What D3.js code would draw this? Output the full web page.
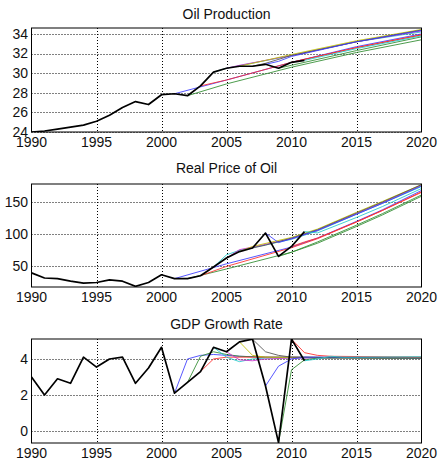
<!DOCTYPE html>
<html><head><meta charset="utf-8">
<script src="https://cdn.jsdelivr.net/npm/d3@7"></script>
<style>
body{margin:0;background:#fff;}
text{font-family:"Liberation Sans",Arial,sans-serif;fill:#111;}
</style></head>
<body><svg id="c" width="447" height="466"></svg>
<script>
// ---- data ----
const histYears = [1990,1991,1992,1993,1994,1995,1996,1997,1998,1999,2000,2001,2002,2003,2004,2005,2006,2007,2008,2009,2010,2011];
const oilActual = [24.0,24.1,24.3,24.5,24.7,25.1,25.7,26.5,27.1,26.8,27.8,27.9,27.7,28.7,30.1,30.5,30.7,30.7,30.9,30.5,31.1,31.3];
const priceActual = [40,32,31,27,24,25,29,27,19,25,37,31,31,35.5,49,63,73,78.6,101.8,65.5,81,104];
const gdpActual = [3.0,2.0,2.9,2.65,4.1,3.55,4.0,4.1,2.65,3.5,4.65,2.1,2.7,3.3,4.65,4.4,4.95,5.1,2.5,-0.65,5.1,3.9];

const forecastColors = ["#3a3aff","#2e8b2e","#ff2a2a","#20c8c8","#c830c8","#c0c000","#505050","#3a3aff","#2e8b2e","#ff2a2a","#20c8c8"];

const oilForecastYears = [
 [2001,2003,2005,2010,2015,2020],
 [2002,2005,2010,2015,2020],
 [2003,2005,2010,2015,2020],
 [2004,2005,2010,2015,2020],
 [2005,2006,2010,2015,2020],
 [2006,2007,2010,2015,2020],
 [2007,2008,2010,2015,2020],
 [2008,2009,2010,2015,2020],
 [2009,2010,2015,2020],
 [2010,2011,2015,2020],
 [2011,2012,2015,2020]];
const oilForecastValues = [
 [27.9,28.6,29.3,31.1,32.7,34.0],
 [27.7,28.9,30.6,32.1,33.4],
 [28.7,29.3,31.1,32.6,33.9],
 [30.1,30.5,31.8,33.2,34.2],
 [30.5,30.8,31.8,33.2,34.3],
 [30.7,31.0,31.9,33.3,34.45],
 [30.7,31.0,31.8,33.2,34.4],
 [30.9,31.2,31.7,33.2,34.35],
 [30.5,30.8,32.3,33.7],
 [31.1,31.4,32.6,33.9],
 [31.3,31.6,32.5,33.8]];

const priceForecastYears = [
 [2001,2005,2010,2012,2015,2017,2020],
 [2002,2005,2010,2012,2015,2017,2020],
 [2003,2005,2010,2012,2015,2017,2020],
 [2004,2005,2006,2010,2012,2015,2017,2020],
 [2005,2006,2007,2010,2012,2015,2017,2020],
 [2006,2007,2010,2012,2015,2017,2020],
 [2007,2008,2010,2012,2015,2017,2020],
 [2008,2009,2010,2012,2015,2017,2020],
 [2009,2010,2012,2015,2017,2020],
 [2010,2011,2012,2015,2017,2020],
 [2011,2012,2015,2017,2020]];
const priceForecastValues = [
 [31,54,80,94,120,138,168],
 [31,46,72,86,112,130,159],
 [35.5,50,79,93,119,137,165],
 [49,68,75,92,105,131,148,174],
 [63,76,80,93,106,132,149,176],
 [73,81,95,108,134,151,177],
 [78.6,83,94,107,133,150,177],
 [101.8,87,93,106,131,148,175],
 [65.5,72,88,114,132,161],
 [81,88,94,119,137,166],
 [104,102,126,143,171]];

const gdpForecastYears = [
 [2001,2002,2003,2004,2005,2006,2008,2012,2020],
 [2002,2003,2004,2005,2006,2008,2020],
 [2003,2004,2005,2007,2020],
 [2004,2005,2006,2007,2008,2020],
 [2005,2006,2007,2008,2010,2020],
 [2006,2007,2008,2020],
 [2007,2008,2009,2010,2020],
 [2008,2009,2010,2011,2020],
 [2009,2010,2011,2012,2020],
 [2010,2011,2012,2013,2020],
 [2011,2012,2013,2014,2020]];
const gdpForecastValues = [
 [2.1,4.0,4.2,4.25,4.2,4.15,4.1,4.1,4.05],
 [2.7,4.15,4.4,4.25,4.15,4.1,4.05],
 [3.3,4.0,4.1,4.1,4.05],
 [4.65,4.1,3.85,4.0,4.05,4.1],
 [4.4,3.95,3.9,4.0,4.05,4.05],
 [4.95,4.2,4.1,4.05],
 [5.1,4.4,4.2,4.1,4.05],
 [2.5,3.6,4.0,4.1,4.05],
 [-0.65,3.4,3.95,4.05,4.05],
 [5.1,4.35,4.2,4.15,4.1],
 [3.9,4.0,4.15,4.1,4.12]];

const xTicks = [1990,1995,2000,2005,2010,2015,2020];
const panels = [
 {title:"Oil Production", actual:oilActual, fy:oilForecastYears, fv:oilForecastValues, domain:[24,34.6], yTicks:[24,26,28,30,32,34], top:28, bottom:132, titleY:19, xlabY:146.5},
 {title:"Real Price of Oil", actual:priceActual, fy:priceForecastYears, fv:priceForecastValues, domain:[18,178], yTicks:[50,100,150], top:184, bottom:287, titleY:173, xlabY:301.5},
 {title:"GDP Growth Rate", actual:gdpActual, fy:gdpForecastYears, fv:gdpForecastValues, domain:[-0.67,5.11], yTicks:[0,2,4], top:339, bottom:443, titleY:329, xlabY:458}
];

// ---- drawing ----
const svg = d3.select("#c");
const left = 31.5, right = 421.5;
const x = d3.scaleLinear().domain([1990,2020]).range([left,right]);

panels.forEach(p => {
  const y = d3.scaleLinear().domain(p.domain).range([p.bottom, p.top]);
  const g = svg.append("g");
  const clipId = "clip" + p.top;
  svg.append("clipPath").attr("id", clipId).append("rect")
    .attr("x", left).attr("y", p.top).attr("width", right-left).attr("height", p.bottom-p.top);

  // grid
  g.selectAll(".gx").data(xTicks.slice(1,-1)).join("line")
    .attr("x1", d=>Math.round(x(d))+0.5).attr("x2", d=>Math.round(x(d))+0.5).attr("y1", p.top).attr("y2", p.bottom)
    .attr("stroke","#000").attr("stroke-width",1).attr("stroke-dasharray","1,2");
  g.selectAll(".gy").data(p.yTicks).join("line")
    .attr("x1", left).attr("x2", right).attr("y1", d=>Math.round(y(d))+0.5).attr("y2", d=>Math.round(y(d))+0.5)
    .attr("stroke","#000").attr("stroke-width",1).attr("stroke-dasharray","1,2");

  // forecasts
  const line = d3.line().x(d=>x(d[0])).y(d=>y(d[1]));
  const lg = g.append("g").attr("clip-path", `url(#${clipId})`);
  p.fy.forEach((yrs,i) => {
    const pts = yrs.map((yr,j)=>[yr, p.fv[i][j]]);
    lg.append("path").attr("d", line(pts)).attr("fill","none")
      .attr("stroke", forecastColors[i]).attr("stroke-width",1).attr("stroke-opacity",0.85);
  });
  // actual
  lg.append("path").attr("d", line(histYears.map((yr,j)=>[yr,p.actual[j]])))
    .attr("fill","none").attr("stroke","#000").attr("stroke-width",1.7).attr("stroke-linejoin","round");

  // frame
  g.append("rect").attr("x",left).attr("y",p.top).attr("width",right-left).attr("height",p.bottom-p.top)
    .attr("fill","none").attr("stroke","#000").attr("stroke-width",1);

  // labels
  g.selectAll(".yl").data(p.yTicks).join("text")
    .attr("x", 28).attr("y", d=>y(d)).attr("dy","0.35em").attr("text-anchor","end")
    .attr("font-size",14).text(d=>d);
  g.selectAll(".xl").data(xTicks).join("text")
    .attr("x", d=>x(d)).attr("y", p.xlabY).attr("text-anchor","middle")
    .attr("font-size",14).text(d=>d);
  g.append("text").attr("x",(left+right)/2).attr("y",p.titleY).attr("text-anchor","middle")
    .attr("font-size",14).text(p.title);
});
</script>
</body></html>
